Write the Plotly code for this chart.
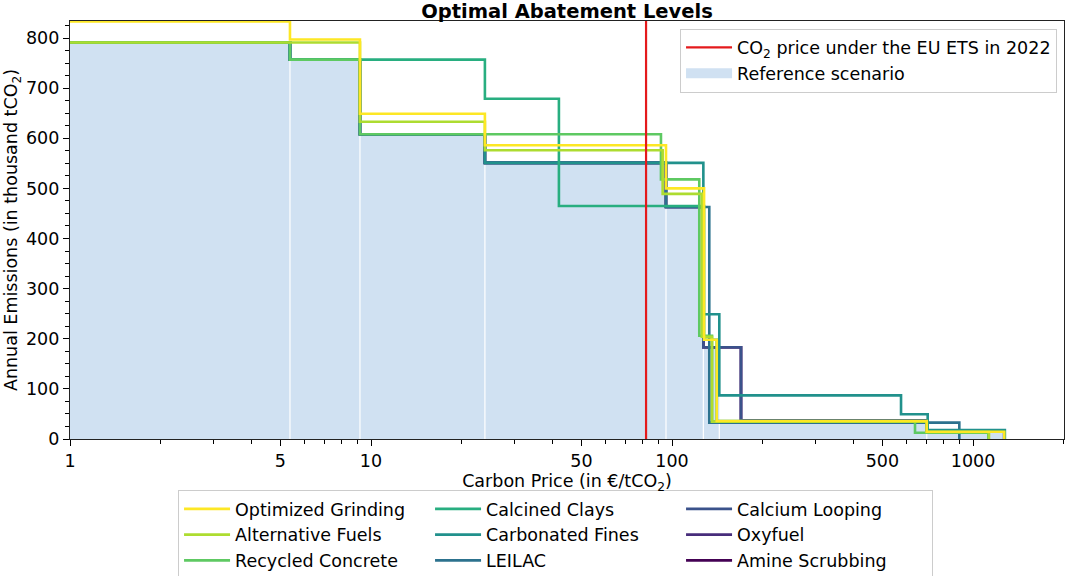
import plotly.graph_objects as go

# ---------------------------------------------------------------------------
# Data: stepwise abatement curves. Each level applies from its start price up
# to the next start price; the last entry is where the curve falls to zero.
# Prices in EUR/tCO2, emissions in thousand tCO2 per year.
# ---------------------------------------------------------------------------
grinding_price = [1, 5.38, 9.19, 23.9, 95.5, 127.8, 140.8, 702, 1270]
grinding_emis = [833, 797, 649, 586, 500, 198, 36, 14.6, 0]

alt_fuels_price = [1, 9.19, 23.9, 93.1, 125.6, 135.8, 702, 1130]
alt_fuels_emis = [791, 633, 576, 489, 204, 34.6, 14, 0]

recycled_price = [1, 5.38, 9.19, 91.9, 123.2, 135.8, 641.7, 1124]
recycled_emis = [791, 757, 608, 518, 206, 34.6, 12.6, 0]

clays_price = [1, 5.38, 23.9, 42.1, 127.8, 140.8, 702, 1270]
clays_emis = [791, 757, 679, 465, 198, 36, 14.6, 0]

fines_price = [1, 5.38, 9.19, 23.9, 127.1, 143.6, 576.6, 707, 1276]
fines_emis = [791, 757, 608, 551, 249, 87, 49.3, 18, 0]

leilac_price = [1, 5.38, 9.19, 23.9, 95.5, 133.0, 900.6]
leilac_emis = [791, 757, 608, 551, 463, 32.6, 0]

looping_price = [1, 5.38, 9.19, 23.9, 95.5, 127.1, 169.5, 702, 1270]
looping_emis = [791, 757, 608, 551, 463, 183, 37, 14.6, 0]

oxyfuel_price = [1, 5.38, 9.19, 23.9, 95.5, 127.1, 169.5, 702, 1270]
oxyfuel_emis = [791, 757, 608, 551, 463, 183, 37, 14.6, 0]

amine_price = [1, 5.38, 9.19, 23.9, 95.5, 127.1, 169.5, 702, 1270]
amine_emis = [791, 757, 608, 551, 463, 183, 37, 14.6, 0]

reference_price = [1, 5.38, 9.19, 23.9, 95.5, 127.1, 143.6, 702, 1270]
reference_emis = [791, 757, 608, 551, 463, 184, 36, 14.6, 0]

ets_price_2022 = 82

x_major_ticks = [1, 5, 10, 50, 100, 500, 1000]
x_minor_ticks = [2, 3, 4, 6, 7, 8, 9, 20, 30, 40, 60, 70, 80, 90,
                 200, 300, 400, 600, 700, 800, 900, 2000]
y_major_ticks = [0, 100, 200, 300, 400, 500, 600, 700, 800]

# name, prices, emissions, viridis colour, rank in the 3-column legend
technologies = [
    ("Optimized Grinding", grinding_price, grinding_emis, "#fde725", 1),
    ("Alternative Fuels", alt_fuels_price, alt_fuels_emis, "#addc30", 4),
    ("Recycled Concrete", recycled_price, recycled_emis, "#5ec962", 7),
    ("Calcined Clays", clays_price, clays_emis, "#28ae80", 2),
    ("Carbonated Fines", fines_price, fines_emis, "#21918c", 5),
    ("LEILAC", leilac_price, leilac_emis, "#2c728e", 8),
    ("Calcium Looping", looping_price, looping_emis, "#3b528b", 3),
    ("Oxyfuel", oxyfuel_price, oxyfuel_emis, "#472d7b", 6),
    ("Amine Scrubbing", amine_price, amine_emis, "#440154", 9),
]

FONT = "DejaVu Sans"
Y_TOP = 834
FILL = "#d0e1f2"

fig = go.Figure()

# Reference scenario as a filled step area
fig.add_trace(go.Scatter(
    x=reference_price, y=reference_emis, mode="lines",
    line=dict(shape="hv", width=0, color=FILL),
    fill="tozeroy", fillcolor=FILL,
    showlegend=False, hoverinfo="skip",
))

# Thin white separators between the reference blocks
sep_x, sep_y = [], []
for i in range(1, len(reference_price) - 1):
    top = min(reference_emis[i - 1], reference_emis[i])
    sep_x += [reference_price[i], reference_price[i], None]
    sep_y += [0, top, None]
fig.add_trace(go.Scatter(
    x=sep_x, y=sep_y, mode="lines",
    line=dict(color="white", width=1.2),
    showlegend=False, hoverinfo="skip",
))

# Technology curves, last legend entry drawn first so the first lies on top
for name, px, ey, color, rank in reversed(technologies):
    fig.add_trace(go.Scatter(
        x=px, y=ey, mode="lines", name=name,
        line=dict(shape="hv", width=2.6, color=color),
        legend="legend", legendrank=rank,
    ))

# EU ETS price line
fig.add_trace(go.Scatter(
    x=[ets_price_2022, ets_price_2022], y=[0, Y_TOP], mode="lines",
    line=dict(color="#e41a1c", width=2.2),
    name="CO<sub>2</sub> price under the EU ETS in 2022",
    legend="legend2", legendrank=1,
))

# Legend swatch for the reference area (a thick band)
fig.add_trace(go.Scatter(
    x=[None], y=[None], mode="lines",
    line=dict(color=FILL, width=12),
    name="Reference scenario", legend="legend2", legendrank=2,
    hoverinfo="skip",
))

fig.update_layout(
    width=1066, height=576,
    margin=dict(l=70, r=2, t=21, b=137, autoexpand=False),
    paper_bgcolor="white", plot_bgcolor="white",
    font=dict(family=FONT, size=17.5, color="black"),
    title=dict(
        text="<b>Optimal Abatement Levels</b>",
        font=dict(family=FONT, size=19.5, color="black"),
        x=0.5, xref="paper", xanchor="center",
        y=1 - 11.5 / 576, yref="container", yanchor="middle",
    ),
    xaxis=dict(
        type="log", range=[0, 3.3023],
        tickmode="array", tickvals=x_major_ticks,
        ticktext=[str(v) for v in x_major_ticks],
        ticks="outside", ticklen=6, tickwidth=1, tickcolor="black",
        minor=dict(tickmode="array", tickvals=x_minor_ticks,
                   ticks="outside", ticklen=3.5, tickwidth=1,
                   tickcolor="black", showgrid=False),
        showline=True, linecolor="#222", linewidth=1.2, mirror=True,
        showgrid=False, zeroline=False,
        tickfont=dict(size=17.5),
        title=dict(text="Carbon Price (in €/tCO<sub>2</sub>)",
                   font=dict(size=17.5), standoff=4),
    ),
    yaxis=dict(
        range=[0, Y_TOP],
        tickmode="array", tickvals=y_major_ticks,
        ticks="outside", ticklen=6, tickwidth=1, tickcolor="black",
        minor=dict(dtick=25, tick0=0, ticks="outside", ticklen=3.5,
                   tickwidth=1, tickcolor="black", showgrid=False),
        showline=True, linecolor="#222", linewidth=1.2, mirror=True,
        showgrid=False, zeroline=False,
        tickfont=dict(size=17.5),
        title=dict(text="Annual Emissions (in thousand tCO<sub>2</sub>)",
                   font=dict(size=17.5), standoff=3),
    ),
    legend=dict(
        orientation="h", x=0.1087, y=-0.122,
        xanchor="left", yanchor="top",
        itemwidth=46,
        entrywidth=190, entrywidthmode="pixels",
        bgcolor="rgba(255,255,255,0.9)", bordercolor="#cccccc", borderwidth=1,
        font=dict(family=FONT, size=17.5, color="black"),
        traceorder="normal",
    ),
    legend2=dict(
        x=0.993, y=0.982, xanchor="right", yanchor="top",
        itemwidth=46,
        bgcolor="rgba(255,255,255,0.9)", bordercolor="#cccccc", borderwidth=1,
        font=dict(family=FONT, size=17.5, color="black"),
        traceorder="normal",
    ),
    showlegend=True,
)

fig.write_html("out.html")
